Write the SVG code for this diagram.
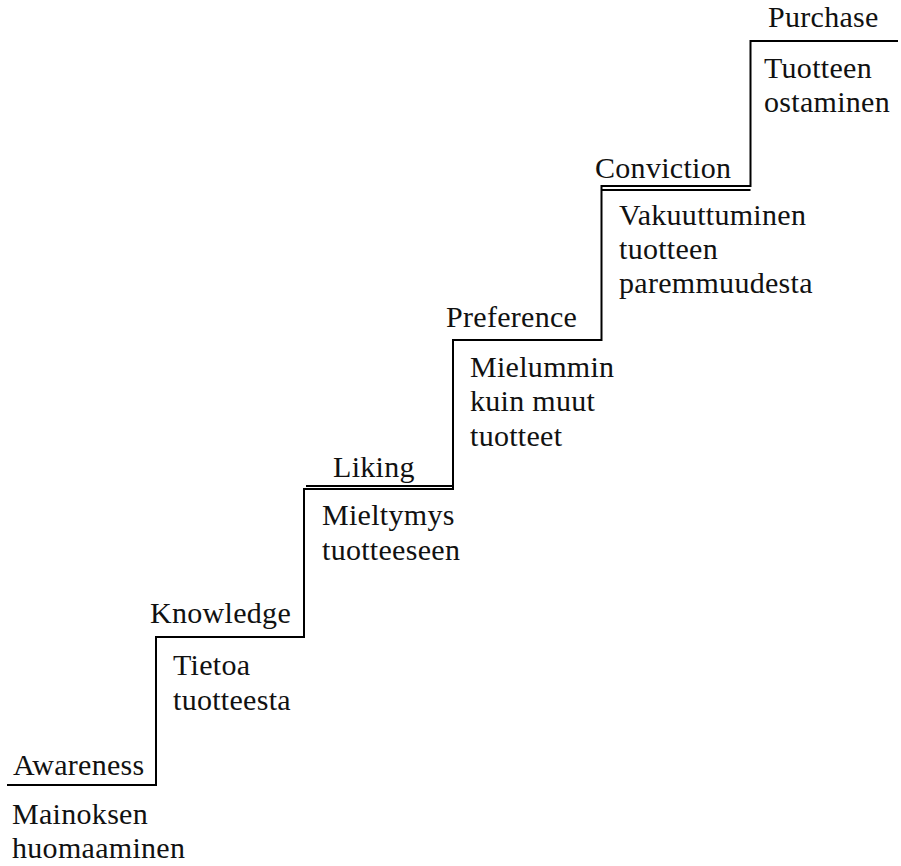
<svg xmlns="http://www.w3.org/2000/svg" width="901" height="866" viewBox="0 0 901 866">
  <style>
    .step { fill: none; stroke: #000; stroke-width: 2; }
    .lbl { font-family: "Liberation Serif", "Times New Roman", serif; font-size: 30px; letter-spacing: 0.3px; fill: #111; }
  </style>
  <rect width="901" height="866" fill="#fff"/>

  <!-- staircase outline -->
  <g id="connectors">
    <path class="step" d="M7,785 H156 V637 H304 V489 H453 V340 H601.5 V186 H750.5 V41 H898"/>
    <path class="step" d="M306,486 H453"/>
    <path class="step" d="M602,190 H750.5"/>
  </g>

  <g id="awareness">
    <text class="lbl" x="13" y="775">Awareness</text>
    <text class="lbl" x="12" y="824">Mainoksen</text>
    <text class="lbl" x="12" y="858">huomaaminen</text>
  </g>

  <g id="knowledge">
    <text class="lbl" x="150" y="623">Knowledge</text>
    <text class="lbl" x="173" y="675">Tietoa</text>
    <text class="lbl" x="173" y="710">tuotteesta</text>
  </g>

  <g id="liking">
    <text class="lbl" x="333" y="477">Liking</text>
    <text class="lbl" x="322" y="525">Mieltymys</text>
    <text class="lbl" x="322" y="560">tuotteeseen</text>
  </g>

  <g id="preference">
    <text class="lbl" x="446" y="327">Preference</text>
    <text class="lbl" x="470" y="377">Mielummin</text>
    <text class="lbl" x="470" y="411">kuin muut</text>
    <text class="lbl" x="470" y="446">tuotteet</text>
  </g>

  <g id="conviction">
    <text class="lbl" x="595" y="178">Conviction</text>
    <text class="lbl" x="619" y="225">Vakuuttuminen</text>
    <text class="lbl" x="619" y="259">tuotteen</text>
    <text class="lbl" x="619" y="293">paremmuudesta</text>
  </g>

  <g id="purchase">
    <text class="lbl" x="768" y="27">Purchase</text>
    <text class="lbl" x="764" y="78">Tuotteen</text>
    <text class="lbl" x="764" y="112">ostaminen</text>
  </g>
</svg>
